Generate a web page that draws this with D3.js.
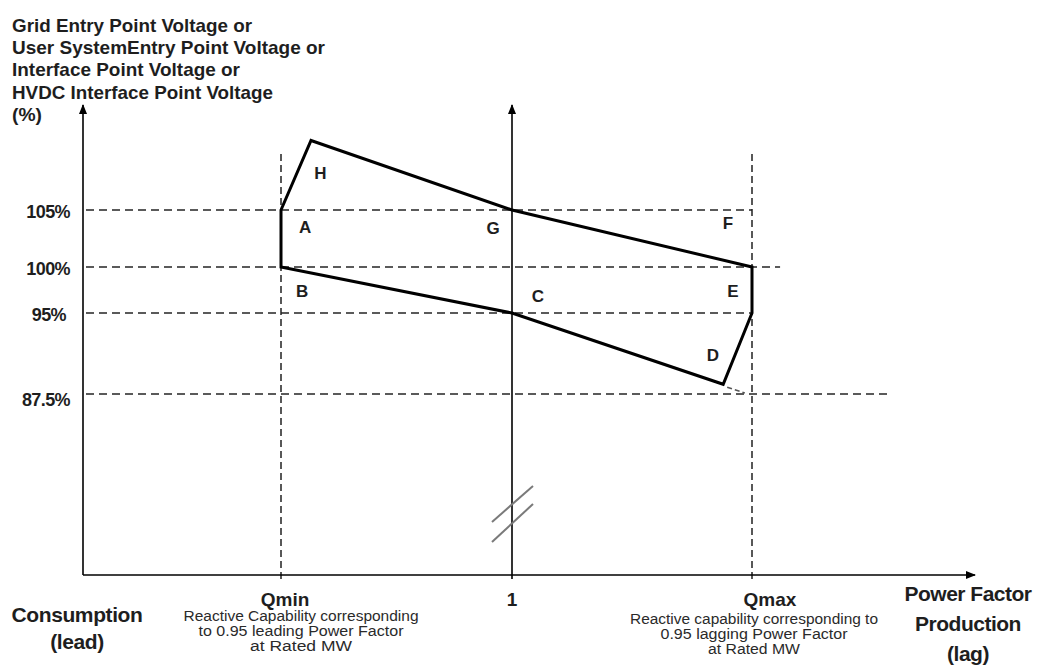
<!DOCTYPE html>
<html>
<head>
<meta charset="utf-8">
<script src="https://cdn.jsdelivr.net/npm/d3@7"></script>
<style>
  html, body { margin: 0; padding: 0; background: #fff; }
  svg { display: block; font-family: "Liberation Sans", Arial, sans-serif; }
  .lbl { font-weight: bold; fill: #1e1e1e; }
  .sub { fill: #2a2a2a; }
</style>
</head>
<body>
<div id="chart"></div>
<script>
// Voltage levels (%) and their tick labels
const levels = [87.5, 95, 100, 105];
const levelLabels = ['87.5%', '95%', '100%', '105%'];
// how far each horizontal guide runs to the right (reactive power, Qmax = 1)
const guideEnds = [1.58, 1, 1.117, 1];

// Reactive power categories on the x axis (Qmin = -1, unity PF = 0, Qmax = 1)
const qCats = [-1, 0, 1];
const qLabels = ['Qmin', '1', 'Qmax'];

// Operating envelope H-G-F-E-D-C-B-A
const boundaryQ = [-0.87, 0, 1, 1, 0.88, 0, -1, -1];
const boundaryV = [111.1, 105, 100, 95, 88.4, 95, 100, 105];

// Point letters
const pointNames = ['H', 'A', 'G', 'B', 'F', 'C', 'E', 'D'];
const pointQ = [-0.83, -0.896, -0.082, -0.909, 0.9, 0.108, 0.921, 0.8375];
const pointV = [108.3, 103.5, 103.4, 97.4, 103.9, 96.85, 97.4, 91.1];

const titleLines = [
    'Grid Entry Point Voltage or',
    'User SystemEntry Point Voltage or',
    'Interface Point Voltage or',
    'HVDC Interface Point Voltage',
    '(%)'
];
const titleWidths = [240, 313, 228, 261, 30];

const width = 1048, height = 666;
const axisLeft = 83, axisRight = 975, axisBottom = 575, axisTop = 105;

const x = d3.scaleLinear().domain([-1, 0, 1]).range([281, 512, 752]);
const y = d3.scaleLinear().domain(levels).range([394, 313, 267, 210]);

const svg = d3.select('#chart').append('svg')
    .attr('width', width)
    .attr('height', height);

const defs = svg.append('defs');
defs.append('marker')
    .attr('id', 'arrow')
    .attr('viewBox', '0 0 10 10')
    .attr('refX', 9).attr('refY', 5)
    .attr('markerWidth', 10).attr('markerHeight', 10)
    .attr('markerUnits', 'userSpaceOnUse')
    .attr('orient', 'auto')
    .append('path')
    .attr('d', 'M0,1 L10,5 L0,9 Z')
    .attr('fill', '#000');

// Horizontal voltage guides
svg.selectAll('.hguide')
    .data(levels)
    .enter().append('line')
    .attr('class', 'hguide')
    .attr('x1', axisLeft + 3)
    .attr('x2', (d, i) => x(guideEnds[i]))
    .attr('y1', d => y(d))
    .attr('y2', d => y(d))
    .attr('stroke', '#5a5a5a')
    .attr('stroke-width', 2)
    .attr('stroke-dasharray', '8,5');

// Vertical Qmin / Qmax guides
svg.selectAll('.vguide')
    .data([qCats[0], qCats[2]])
    .enter().append('line')
    .attr('class', 'vguide')
    .attr('x1', d => x(d))
    .attr('x2', d => x(d))
    .attr('y1', 154)
    .attr('y2', axisBottom + 4)
    .attr('stroke', '#222')
    .attr('stroke-width', 1.5)
    .attr('stroke-dasharray', '7,4');

// Axes
svg.append('line')
    .attr('x1', axisLeft).attr('x2', axisLeft)
    .attr('y1', axisBottom).attr('y2', axisTop)
    .attr('stroke', '#000').attr('stroke-width', 1.6)
    .attr('marker-end', 'url(#arrow)');
svg.append('line')
    .attr('x1', axisLeft).attr('x2', axisRight)
    .attr('y1', axisBottom).attr('y2', axisBottom)
    .attr('stroke', '#000').attr('stroke-width', 1.6)
    .attr('marker-end', 'url(#arrow)');
svg.append('line')
    .attr('x1', x(0)).attr('x2', x(0))
    .attr('y1', axisBottom + 4).attr('y2', axisTop)
    .attr('stroke', '#000').attr('stroke-width', 1.6)
    .attr('marker-end', 'url(#arrow)');

// Axis break marks on the unity-PF line
[[522, 486], [542, 504]].forEach(([y1, y2]) => {
    svg.append('line')
        .attr('x1', x(0) - 20).attr('y1', y1)
        .attr('x2', x(0) + 21).attr('y2', y2)
        .attr('stroke', '#7a7a7a').attr('stroke-width', 2);
});

// Envelope
const pts = boundaryQ.map((q, i) => [x(q), y(boundaryV[i])]);
svg.append('path')
    .attr('d', d3.line()(pts) + 'Z')
    .attr('fill', 'none')
    .attr('stroke', '#000')
    .attr('stroke-width', 3)
    .attr('stroke-linejoin', 'miter');

// short dashed tail after D
svg.append('line')
    .attr('x1', x(0.88) + 4).attr('y1', y(88.4) + 3)
    .attr('x2', x(0.97)).attr('y2', y(87.6))
    .attr('stroke', '#555').attr('stroke-width', 1.5)
    .attr('stroke-dasharray', '5,3');

// Point letters
svg.selectAll('.pt')
    .data(pointNames)
    .enter().append('text')
    .attr('class', 'lbl')
    .attr('x', (d, i) => x(pointQ[i]))
    .attr('y', (d, i) => y(pointV[i]))
    .attr('dy', '0.36em')
    .attr('text-anchor', 'middle')
    .style('font-size', '17px')
    .text(d => d);

// Y tick labels
svg.selectAll('.ytick')
    .data(levels)
    .enter().append('text')
    .attr('class', 'lbl')
    .attr('x', (d, i) => i === 1 ? 66 : 70)
    .attr('y', d => y(d) + (d === 87.5 ? 6 : 2))
    .attr('dy', '0.36em')
    .attr('text-anchor', 'end')
    .style('font-size', '18px')
    .style('letter-spacing', '-0.6px')
    .text((d, i) => levelLabels[i]);

// Y title
svg.selectAll('.ytitle')
    .data(titleLines)
    .enter().append('text')
    .attr('class', 'lbl')
    .attr('x', 12)
    .attr('y', (d, i) => 32 + i * 22.2)
    .attr('textLength', (d, i) => titleWidths[i])
    .attr('lengthAdjust', 'spacingAndGlyphs')
    .style('font-size', '19px')
    .text(d => d);

// X category labels
const catOffsets = [4, 0, 18];
svg.selectAll('.xcat')
    .data(qCats)
    .enter().append('text')
    .attr('class', 'lbl')
    .attr('x', (d, i) => x(d) + catOffsets[i])
    .attr('y', 606)
    .attr('text-anchor', 'middle')
    .style('font-size', '19px')
    .text((d, i) => qLabels[i]);

// Sub-notes under Qmin and Qmax
const subNotes = [
    { cx: x(-1) + 20, y0: 621, lines: ['Reactive Capability corresponding', 'to 0.95 leading Power Factor', 'at Rated MW'], w: [235, 205, 102] },
    { cx: x(1) + 2, y0: 624, lines: ['Reactive capability corresponding to', '0.95 lagging Power Factor', 'at Rated MW'], w: [248, 187, 92] }
];
subNotes.forEach(n => {
    n.lines.forEach((t, i) => {
        svg.append('text')
            .attr('class', 'sub')
            .attr('x', n.cx)
            .attr('y', n.y0 + i * 15)
            .attr('text-anchor', 'middle')
            .attr('textLength', n.w[i])
            .attr('lengthAdjust', 'spacingAndGlyphs')
            .style('font-size', '14px')
            .text(t);
    });
});

// Side captions
const leftCaption = ['Consumption', '(lead)'];
svg.selectAll('.lcap')
    .data(leftCaption)
    .enter().append('text')
    .attr('class', 'lbl')
    .attr('x', 77)
    .attr('y', (d, i) => 622 + i * 27)
    .attr('text-anchor', 'middle')
    .style('font-size', '21px')
    .style('letter-spacing', '-0.4px')
    .text(d => d);

const rightCaption = ['Power Factor', 'Production', '(lag)'];
svg.selectAll('.rcap')
    .data(rightCaption)
    .enter().append('text')
    .attr('class', 'lbl')
    .attr('x', 968)
    .attr('y', (d, i) => 601 + i * 30)
    .attr('text-anchor', 'middle')
    .style('font-size', '21px')
    .style('letter-spacing', '-0.5px')
    .text(d => d);
</script>
</body>
</html>
